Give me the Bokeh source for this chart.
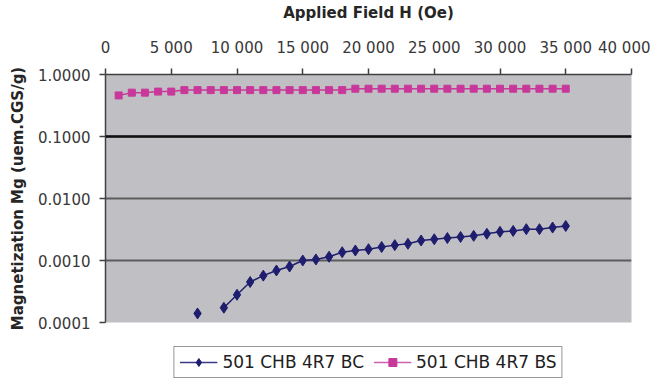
from bokeh.plotting import figure
from bokeh.models import (Range1d, FixedTicker, CustomJSTickFormatter, Span, Legend,
                          LegendItem, ColumnDataSource)
from bokeh.layouts import column
from bokeh.embed import file_html
from bokeh.resources import INLINE

# ---- data ----
bc_field = [7000, 9000, 10000, 11000, 12000, 13000, 14000, 15000, 16000, 17000, 18000,
            19000, 20000, 21000, 22000, 23000, 24000, 25000, 26000, 27000, 28000, 29000,
            30000, 31000, 32000, 33000, 34000, 35000]
bc_mag = [0.00014, 0.000173, 0.00028, 0.00045, 0.00057, 0.00069, 0.00080, 0.0010, 0.00104,
          0.00115, 0.00136, 0.00145, 0.00152, 0.00165, 0.00177, 0.00186, 0.0021, 0.0022,
          0.0023, 0.0024, 0.0025, 0.0027, 0.0029, 0.0030, 0.0032, 0.0032, 0.0034, 0.0036]
bs_field = [1000, 2000, 3000, 4000, 5000, 6000, 7000, 8000, 9000, 10000, 11000, 12000,
            13000, 14000, 15000, 16000, 17000, 18000, 19000, 20000, 21000, 22000, 23000,
            24000, 25000, 26000, 27000, 28000, 29000, 30000, 31000, 32000, 33000, 34000, 35000]
bs_mag = [0.46, 0.51, 0.51, 0.53, 0.53, 0.56, 0.56, 0.56, 0.56, 0.56, 0.56, 0.56, 0.56,
          0.56, 0.56, 0.56, 0.56, 0.56, 0.59, 0.59, 0.59, 0.59, 0.59, 0.59, 0.59, 0.59,
          0.59, 0.59, 0.59, 0.59, 0.59, 0.59, 0.59, 0.59, 0.59]
x_ticks = [0, 5000, 10000, 15000, 20000, 25000, 30000, 35000, 40000]
y_ticks = [0.0001, 0.001, 0.01, 0.1, 1.0]
series_names = ["501 CHB 4R7 BC", "501 CHB 4R7 BS"]
x_title = "Applied Field H (Oe)"
y_title = "Magnetization Mg (uem.CGS/g)"

BLUE = "#1f1d6e"
PINK = "#c8389a"
FONT = "DejaVu Sans"

p = figure(width=650, height=335, frame_width=526, frame_height=248,
           x_range=Range1d(0, 40000), y_range=Range1d(0.0001, 1.0),
           y_axis_type="log", x_axis_location="above",
           output_backend="svg", toolbar_location=None,
           min_border_left=105, min_border_top=67, min_border_right=19, min_border_bottom=20)

p.border_fill_color = "white"
p.outline_line_color = None
p.background_fill_color = "#c0c0c4"

# axes
xa = p.xaxis[0]
xa.ticker = FixedTicker(ticks=x_ticks)
xa.formatter = CustomJSTickFormatter(code="return tick.toFixed(0).replace(/\\B(?=(\\d{3})+(?!\\d))/g, ' ');")
xa.axis_label = x_title
ya = p.yaxis[0]
ya.ticker = FixedTicker(ticks=y_ticks)
ya.formatter = CustomJSTickFormatter(code="return tick.toFixed(4);")
ya.axis_label = y_title

for ax in (xa, ya):
    ax.axis_line_color = "#404040"
    ax.axis_line_width = 1.5
    ax.major_tick_line_color = "#404040"
    ax.major_tick_line_width = 1.5
    ax.major_tick_out = 6
    ax.major_tick_in = 0
    ax.minor_tick_line_color = None
    ax.major_label_text_font = FONT
    ax.major_label_text_font_size = "15px"
    ax.major_label_text_color = "#383838"
    ax.axis_label_text_font = FONT
    ax.axis_label_text_font_size = "15px"
    ax.axis_label_text_font_style = "bold"
    ax.axis_label_text_color = "#262626"
xa.major_label_standoff = 12
xa.axis_label_standoff = 14
ya.major_label_standoff = 9
ya.axis_label_standoff = 8
ya.major_label_orientation = 0

p.xgrid.grid_line_color = None
p.ygrid.ticker = FixedTicker(ticks=y_ticks)
p.ygrid.grid_line_color = "#5c5c5c"
p.ygrid.grid_line_width = 2

p.add_layout(Span(location=y_ticks[3], dimension="width", line_color="#111111", line_width=2.5))

# series
bc_line_src = ColumnDataSource(dict(x=bc_field[1:], y=bc_mag[1:]))
bc_src = ColumnDataSource(dict(x=bc_field, y=bc_mag))
bs_src = ColumnDataSource(dict(x=bs_field, y=bs_mag))

p.line("x", "y", source=bc_line_src, line_color=BLUE, line_width=1.5)
p.scatter("x", "y", source=bc_src, marker="diamond", size=11, fill_color=BLUE, line_color=BLUE)
p.line("x", "y", source=bs_src, line_color=PINK, line_width=1.5)
p.scatter("x", "y", source=bs_src, marker="square", size=7, fill_color=PINK, line_color=PINK)

# legend figure (same frame geometry horizontally); its glyphs sit outside its range
lf = figure(width=650, height=38, frame_width=526, frame_height=38,
            x_range=Range1d(0, 1), y_range=Range1d(0, 1),
            output_backend="svg", toolbar_location=None,
            min_border_left=105, min_border_right=19, min_border_top=0, min_border_bottom=0)
lf.axis.visible = False
lf.grid.visible = False
lf.outline_line_color = None
lf.background_fill_color = "white"
lf.border_fill_color = "white"
off = dict(x=[5, 6], y=[5, 6])
l1 = lf.line("x", "y", source=ColumnDataSource(off), line_color="#3a3a8a", line_width=1.5)
m1 = lf.scatter("x", "y", source=ColumnDataSource(off), marker="diamond", size=11,
                fill_color=BLUE, line_color=BLUE)
l2 = lf.line("x", "y", source=ColumnDataSource(off), line_color="#d060b0", line_width=1.5)
m2 = lf.scatter("x", "y", source=ColumnDataSource(off), marker="square", size=7,
                fill_color=PINK, line_color=PINK)

legend = Legend(items=[LegendItem(label=series_names[0], renderers=[l1, m1]),
                       LegendItem(label=series_names[1], renderers=[l2, m2])],
                orientation="horizontal", location="bottom_center",
                glyph_width=38, glyph_height=20, label_height=20, label_standoff=5,
                spacing=9, padding=5, margin=2,
                label_text_font=FONT, label_text_font_size="17px",
                label_text_color="#202020",
                border_line_color="#303030", border_line_width=1.5,
                background_fill_color="white", background_fill_alpha=1.0)
lf.add_layout(legend, "center")

layout = column(p, lf, spacing=0)
open("out.html", "w").write(file_html(layout, INLINE))
